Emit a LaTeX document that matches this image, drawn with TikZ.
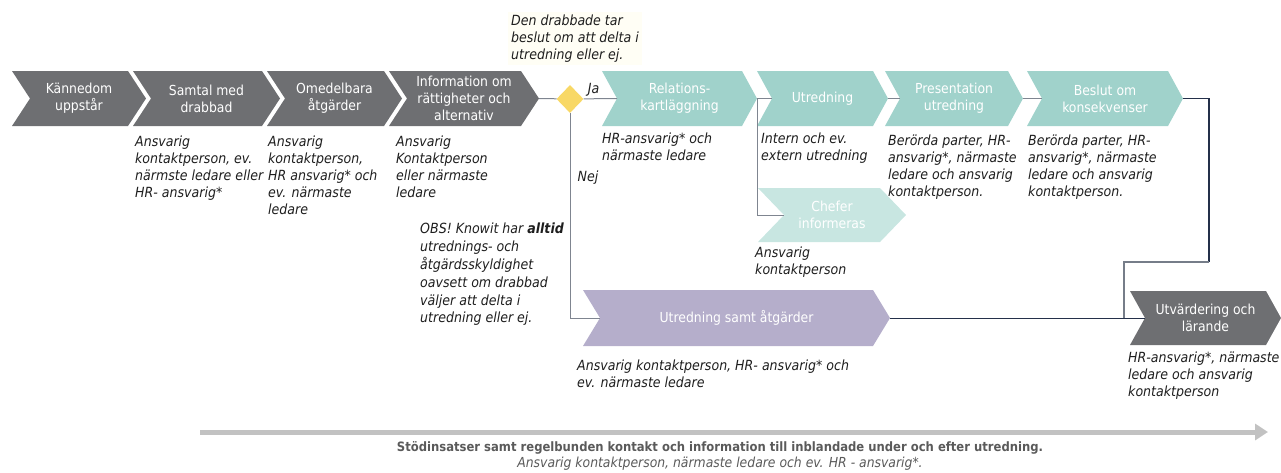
\documentclass[tikz,border=0pt]{standalone}
\usepackage{fontspec}
\setmainfont{DejaVu Sans Condensed}
\usepackage{xcolor}
\usepackage{tikz}
\usetikzlibrary{shapes,arrows.meta,positioning,calc}

\definecolor{chevgrayc}{HTML}{6E6F72}
\definecolor{chevtealc}{HTML}{A0D2CB}
\definecolor{chevlightc}{HTML}{C8E6E1}
\definecolor{chevpurplec}{HTML}{B5AECB}
\definecolor{valc}{HTML}{F8D866}
\definecolor{connc}{HTML}{7F8590}
\definecolor{navyc}{HTML}{24304A}
\definecolor{notec}{HTML}{1E1E1E}
\definecolor{stodc}{HTML}{5A5A5A}

\tikzset{
  chevgray/.style={fill=chevgrayc,draw=none},
  chevteal/.style={fill=chevtealc,draw=none},
  chevlight/.style={fill=chevlightc,draw=none},
  chevpurple/.style={fill=chevpurplec,draw=none},
  chevtext/.style={text=white,align=center,font=\fontsize{13.8}{17}\selectfont,inner sep=0},
  notetext/.style={text=notec,align=left,anchor=north west,inner sep=0,
    font=\itshape\fontsize{14}{16.8}\selectfont},
  labeltext/.style={text=notec,font=\itshape\fontsize{14}{16}\selectfont},
  conn/.style={draw=connc,line width=1pt},
  stodtext/.style={text=stodc}
}

\begin{document}
\begin{tikzpicture}[x=1pt,y=-1pt]
\useasboundingbox (0,0) rectangle (1281,472);

% Chevrons (name/left/right/top/bottom/depth/style/text)
\foreach \n/\l/\r/\t/\b/\d/\c/\txt in {
  kan/12/128/71/126/18/chevgray/{Kännedom\\uppstår},
  sam/133/262/71/126/18/chevgray/{Samtal med\\drabbad},
  ome/267/384/71/126/18/chevgray/{Omedelbara\\åtgärder},
  inf/389/521/71/126/18/chevgray/{Information om\\rättigheter och\\alternativ},
  rel/602/742/71/126/15/chevteal/{Relations-\\kartläggning},
  utr/757/873/71/126/15/chevteal/{Utredning},
  pre/885/1008/71/126/15/chevteal/{Presentation\\utredning},
  bes/1027/1168/71/126/15/chevteal/{Beslut om\\konsekvenser},
  chef/758/880/188/242/26/chevlight/{Chefer\\informeras},
  pur/583/873/290/346/17/chevpurple/{Utredning samt åtgärder},
  utv/1130/1266/291/345/15/chevgray/{Utvärdering och\\lärande}}
{
  \pgfmathsetmacro\m{(\t+\b)/2}
  \fill[\c] (\l,\t) -- (\r,\t) -- ({\r+\d},\m) -- (\r,\b) -- (\l,\b) -- ({\l+\d},\m) -- cycle;
  \node[chevtext] (\n) at ({(\l+\r+\d)/2},\m) {\txt};
  \coordinate (\n-in) at ({\l+\d},\m);
  \coordinate (\n-out) at ({\r+\d},\m);
}

% Decision
\node[diamond,fill=valc,minimum width=27,minimum height=28,inner sep=0] (val) at (570,99) {};
\node[notetext,fill=yellow!4,inner sep=3] (valnote) at (508,12)
  {Den drabbade tar\\beslut om att delta i\\utredning eller ej.};

% Connectors
\coordinate (turn) at (1209,262);
\coordinate (join) at (1124,318);
\draw[conn] (inf-out) -- (val);
\draw[conn] (val) -- node[pos=0.3,above=1,labeltext] (ja) {Ja} (rel-in);
\draw[conn] (val) |- (pur-in);
\node[labeltext] (nej) at (588,178) {Nej};
\draw[conn] (rel-out) -- (utr-in);
\draw[conn] (rel-out) |- (chef-in);
\draw[conn] (utr-out) -- (pre-in);
\draw[conn] (pre-out) -- (bes-in);
\draw[draw=navyc,line width=1.2pt] (bes-out) -| (turn);
\draw[draw=connc!90!navyc,line width=1.4pt] (turn) -| (join);
\draw[conn,draw=navyc] (pur-out) -- (utv-in);

% Notes
\node[notetext] (samnote) at (135,136) {Ansvarig\\kontaktperson, ev.\\närmste ledare eller\\HR- ansvarig*};
\node[notetext] (omenote) at (268,136) {Ansvarig\\kontaktperson,\\HR ansvarig* och\\ev. närmaste\\ledare};
\node[notetext] (infnote) at (396,136) {Ansvarig\\Kontaktperson\\eller närmaste\\ledare};
\node[notetext] (relnote) at (602,133) {HR-ansvarig* och\\närmaste ledare};
\node[notetext] (utrnote) at (761,133) {Intern och ev.\\extern utredning};
\node[notetext] (prenote) at (888,135) {Berörda parter, HR-\\ansvarig*, närmaste\\ledare och ansvarig\\kontaktperson.};
\node[notetext] (besnote) at (1028,135) {Berörda parter, HR-\\ansvarig*, närmaste\\ledare och ansvarig\\kontaktperson.};
\node[notetext] (chefnote) at (755,247) {Ansvarig\\kontaktperson};
\node[notetext,font=\itshape\fontsize{14}{17.8}\selectfont] (obsnote) at (420,223) {OBS! Knowit har \textbf{alltid}\\utrednings- och\\åtgärdsskyldighet\\oavsett om drabbad\\väljer att delta i\\utredning eller ej.};
\node[notetext] (purnote) at (577,360) {Ansvarig kontaktperson, HR- ansvarig* och\\ev. närmaste ledare};
\node[notetext] (utvnote) at (1128,352) {HR-ansvarig*, närmaste\\ledare och ansvarig\\kontaktperson};

% Support arrow
\coordinate (stod-start) at (200,432);
\coordinate (stod-end) at (1268,432);
\draw[draw=black!24,line width=5pt,-{Triangle[length=13pt,width=16pt]}] (stod-start) -- (stod-end);
\node[stodtext,font=\bfseries\fontsize{12.9}{14}\selectfont] (stod) at (720,448)
  {Stödinsatser samt regelbunden kontakt och information till inblandade under och efter utredning.};
\node[stodtext,font=\itshape\fontsize{13.8}{15}\selectfont] (stodnote) at (720,464)
  {Ansvarig kontaktperson, närmaste ledare och ev. HR - ansvarig*.};
\end{tikzpicture}
\end{document}
